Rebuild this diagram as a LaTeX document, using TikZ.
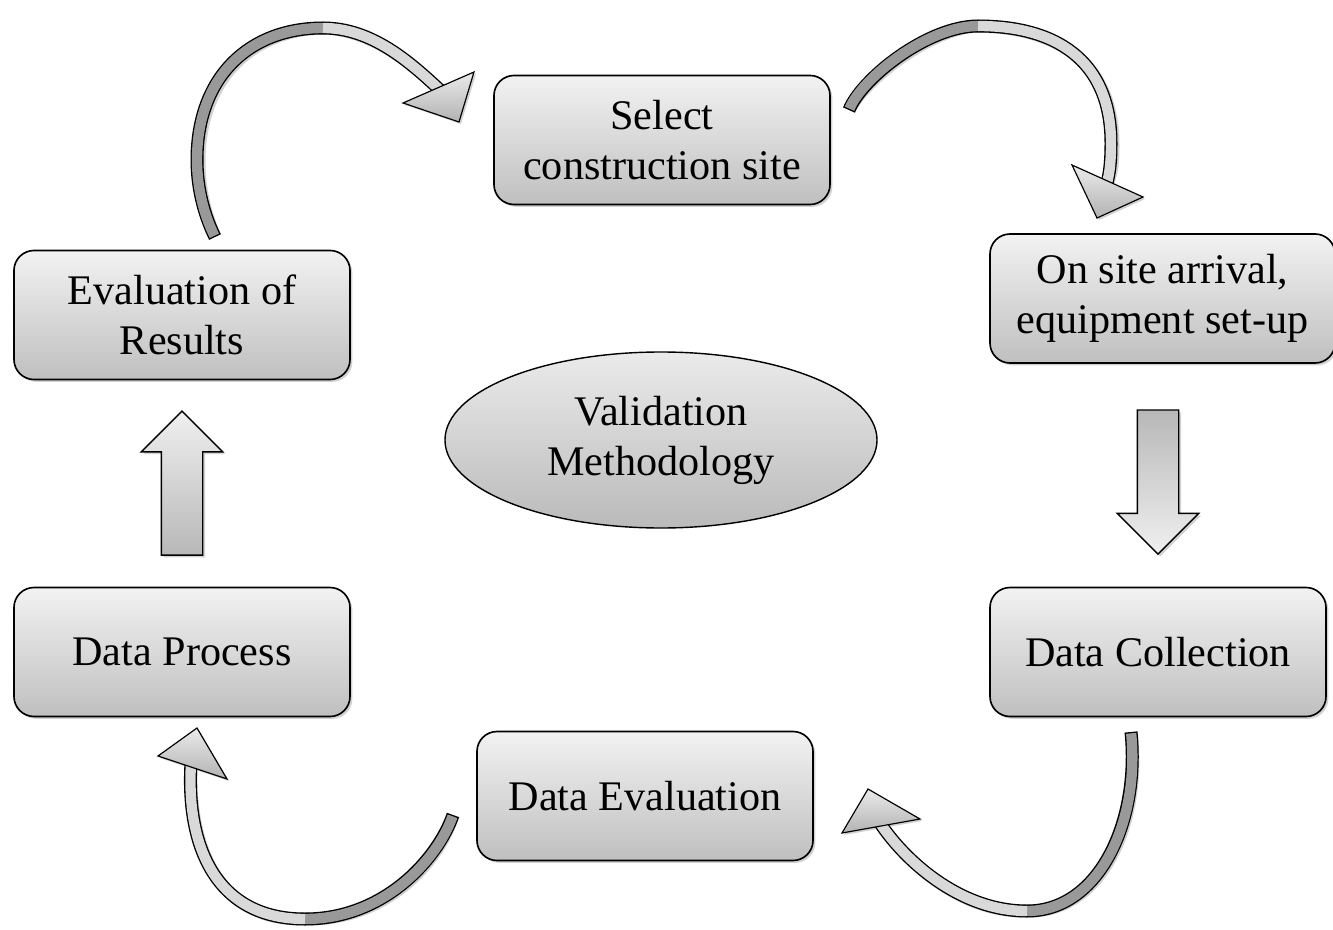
\documentclass[tikz,border=0pt]{standalone}
\usepackage{fontspec}
\setmainfont{Liberation Serif}
\usetikzlibrary{calc,shadows,shapes.geometric,shapes.arrows}

\tikzset{
  stagebox/.style={draw, line width=1.4pt, rounded corners=0.6cm,
    top color=black!5, bottom color=black!25,
    minimum width=10.08cm, minimum height=3.87cm, inner sep=0pt, align=center,
    font=\fontsize{36}{42.7}\selectfont,
    drop shadow={shadow xshift=2pt, shadow yshift=-2pt, fill=black!35, opacity=0.5}},
  centreoval/.style={ellipse, draw, line width=1.2pt,
    top color=black!8, bottom color=black!27,
    minimum width=12.96cm, minimum height=5.28cm, inner sep=0pt, align=center,
    font=\fontsize{36}{42.7}\selectfont},
  blockarrow/.style={single arrow, draw, line width=1.2pt, inner sep=0.6cm,
    minimum width=2.4cm, minimum height=4.32cm,
    single arrow head extend=0.6cm, single arrow head indent=0cm,
    drop shadow={shadow xshift=2pt, shadow yshift=-2pt, fill=black!35, opacity=0.5}},
  bandshadow/.style={line width=0.39cm, draw=black!18, shift={(2,2)}},
  bandedge/.style={line width=0.39cm, draw=black},
  bandtail/.style={line width=0.31cm, draw=black!40, shorten <=0.04cm},
  bandhead/.style={line width=0.31cm, draw=black!15},
  headtip/.style={draw, line width=1pt, top color=black!8, bottom color=black!30}
}

% curved ribbon arrow: tail part, joint, head part, head triangle
\newcommand{\bentarrow}[4]{%
  \draw[bandshadow] #1 #3;
  \fill[black!18, shift={(2,2)}] #4 -- cycle;
  \draw[bandedge] #1 #3;
  \draw[bandtail] #1;
  \draw[bandhead] (#2) #3;
  \path[headtip] #4 -- cycle;
}

\begin{document}
\begin{tikzpicture}[x=0.03cm, y=-0.03cm]
\useasboundingbox (0,0) rectangle (1333,930);

% ends of the curved arrows
\coordinate (t1) at (215,237);  \coordinate (m1) at (323,28);   \coordinate (h1) at (441,91);
\coordinate (t2) at (849,110);  \coordinate (m2) at (978,26);   \coordinate (h2) at (1106.5,185);
\coordinate (t3) at (1131,732); \coordinate (m3) at (1027,911); \coordinate (h3) at (880,823);
\coordinate (t4) at (453,815);  \coordinate (m4) at (305,919);  \coordinate (h4) at (191,763);

\bentarrow{(t1) .. controls (205,217) and (197,190) .. (197,160) .. controls (197,78) and (248,28) .. (m1)}{m1}
  {.. controls (372,28) and (410,62) .. (h1)}{(403,103) -- (474,72) -- (459,122)}
\bentarrow{(t2) .. controls (862,78) and (928,26) .. (m2)}{m2}
  {.. controls (1065,26) and (1111,68) .. (1111,143) .. controls (1111,160) and (1110,172) .. (h2)}{(1072,165) -- (1143,197) -- (1097,218)}
\bentarrow{(t3) .. controls (1140,820) and (1100,911) .. (m3)}{m3}
  {.. controls (958,911) and (903,858) .. (h3)}{(842,833) -- (920,819) -- (868,789)}
\bentarrow{(t4) .. controls (438,858) and (385,919) .. (m4)}{m4}
  {.. controls (215,919) and (186,845) .. (h4)}{(158,756) -- (227,779) -- (197,728)}

% stages
\node[stagebox] (site) at (662,140) {Select\\construction site};
\node[stagebox, minimum width=10.35cm] (onsite) at (1162.5,298.5) {On site arrival,\\equipment set-up};
\node[stagebox] (coll) at (1158,652) {Data Collection};
\node[stagebox] (deval) at (645,796) {Data Evaluation};
\node[stagebox] (proc) at (182,652) {Data Process};
\node[stagebox] (evalres) at (182,315) {Evaluation of\\Results};

\node[centreoval] (valid) at (661,440) {Validation\\Methodology};

% straight block arrows
\node[blockarrow, shape border rotate=90, top color=black!6, bottom color=black!28] (uparrow)
  at ($(proc.north)!0.5!(evalres.south)+(0,10)$) {};
\node[blockarrow, shape border rotate=270, top color=black!28, bottom color=black!6] (downarrow)
  at ($(coll.north)+(0,-115)$) {};
\end{tikzpicture}
\end{document}
